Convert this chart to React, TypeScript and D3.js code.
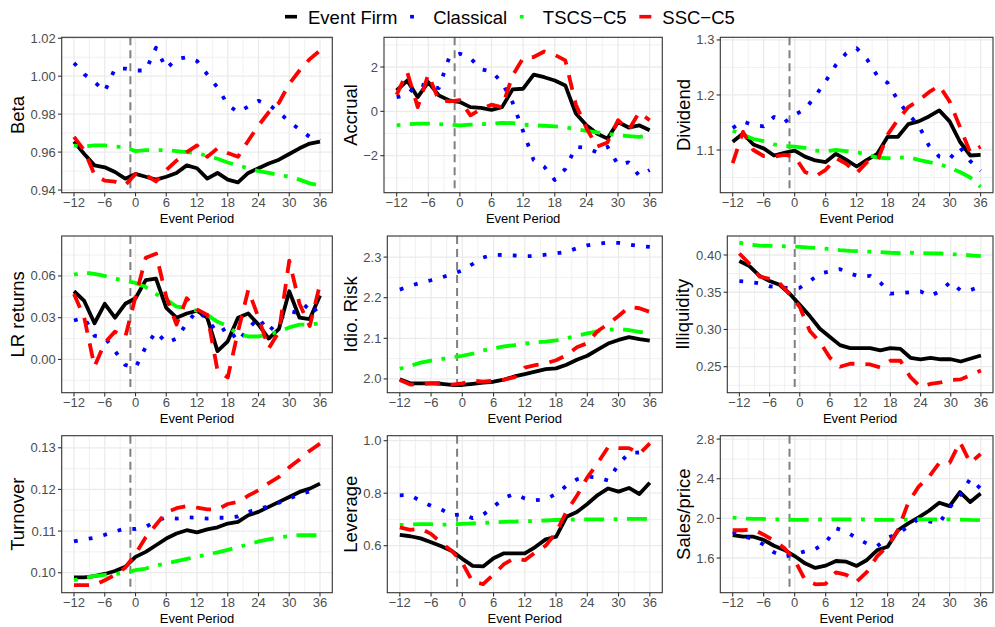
import React from 'react';
import * as d3 from 'd3';

// event periods (every second month)
const PERIODS = [-12, -10, -8, -6, -4, -2, 0, 2, 4, 6, 8, 10, 12, 14, 16, 18, 20, 22, 24, 26, 28, 30, 32, 34, 36];
const X_TICKS = [-12, -6, 0, 6, 12, 18, 24, 30, 36];
const EVENT_LINE = -1;
const SERIES = ['Event Firm', 'Classical', 'TSCS\u2212C5', 'SSC\u2212C5'];

// Beta
const betaFirm = [0.9655, 0.959, 0.953, 0.952, 0.9495, 0.946, 0.9485, 0.947, 0.9455, 0.947, 0.949, 0.953, 0.9515, 0.946, 0.949, 0.9455, 0.944, 0.949, 0.9515, 0.954, 0.956, 0.959, 0.962, 0.9645, 0.9655];
const betaClassical = [1.007, 1.001, 0.997, 0.992, 1.004, 1.004, 1.003, 1.003, 1.015, 1.004, 1.009, 1.010, 1.008, 1.001, 0.994, 0.985, 0.981, 0.984, 0.987, 0.985, 0.981, 0.976, 0.972, 0.968, 0.966];
const betaTscs = [0.9635, 0.963, 0.9635, 0.9635, 0.963, 0.9625, 0.9605, 0.961, 0.961, 0.961, 0.9605, 0.96, 0.9595, 0.958, 0.9565, 0.9545, 0.953, 0.9515, 0.950, 0.949, 0.948, 0.947, 0.9455, 0.9435, 0.9425];
const betaSsc = [0.968, 0.961, 0.948, 0.945, 0.9444, 0.9426, 0.9485, 0.948, 0.9445, 0.9505, 0.9555, 0.960, 0.9635, 0.9575, 0.962, 0.9595, 0.9575, 0.966, 0.974, 0.981, 0.986, 0.996, 1.003, 1.009, 1.0135];

// Accrual
const accFirm = [0.94, 1.39, 0.64, 1.32, 0.72, 0.49, 0.42, 0.19, 0.16, 0.07, 0.19, 0.99, 1.02, 1.66, 1.54, 1.39, 1.17, -0.1, -0.63, -1.0, -1.23, -0.48, -0.73, -0.63, -0.85];
const accClassical = [0.64, 0.75, 1.25, 1.12, 1.05, 2.45, 2.6, 2.4, 1.9, 1.8, 1.3, 0.4, -0.9, -2.2, -2.5, -3.1, -2.6, -1.6, -1.65, -1.85, -1.6, -2.4, -2.3, -2.9, -2.65];
const accTscs = [-0.63, -0.58, -0.55, -0.55, -0.58, -0.6, -0.63, -0.6, -0.58, -0.56, -0.52, -0.53, -0.6, -0.63, -0.65, -0.68, -0.72, -0.8, -0.88, -0.95, -1.02, -1.08, -1.12, -1.15, -1.1];
const accSsc = [0.75, 1.77, 0.19, 1.66, 0.5, 0.45, 0.5, -0.18, 0.1, 0.3, 0.19, 1.62, 2.4, 2.45, 2.7, 2.55, 2.3, 0.3, -0.75, -1.6, -1.4, -0.4, -0.85, -0.05, -0.4];

// Dividend
const divFirm = [1.115, 1.13, 1.11, 1.103, 1.09, 1.095, 1.099, 1.088, 1.081, 1.078, 1.093, 1.082, 1.07, 1.082, 1.093, 1.124, 1.124, 1.147, 1.152, 1.161, 1.172, 1.152, 1.115, 1.09, 1.091];
const divClassical = [1.14, 1.152, 1.145, 1.143, 1.16, 1.15, 1.164, 1.174, 1.198, 1.225, 1.255, 1.276, 1.285, 1.265, 1.235, 1.222, 1.19, 1.165, 1.145, 1.108, 1.088, 1.084, 1.105, 1.08, 1.062];
const divTscs = [1.135, 1.128, 1.12, 1.116, 1.11, 1.107, 1.106, 1.104, 1.099, 1.098, 1.1, 1.098, 1.096, 1.092, 1.086, 1.085, 1.086, 1.087, 1.082, 1.078, 1.074, 1.068, 1.06, 1.05, 1.033];
const divSsc = [1.076, 1.133, 1.1, 1.089, 1.088, 1.091, 1.088, 1.06, 1.052, 1.064, 1.085, 1.075, 1.058, 1.078, 1.08, 1.128, 1.155, 1.178, 1.19, 1.205, 1.217, 1.188, 1.142, 1.095, 1.106];

// LR returns
const lrFirm = [0.049, 0.042, 0.026, 0.040, 0.030, 0.040, 0.044, 0.057, 0.058, 0.037, 0.030, 0.033, 0.035, 0.030, 0.006, 0.013, 0.030, 0.033, 0.025, 0.015, 0.022, 0.049, 0.030, 0.029, 0.046];
const lrClassical = [0.028, 0.03, 0.017, 0.016, 0.006, -0.004, -0.006, 0.009, 0.02, 0.012, 0.015, 0.026, 0.035, 0.029, 0.019, 0.023, 0.013, 0.022, 0.03, 0.02, 0.028, 0.035, 0.033, 0.041, 0.031];
const lrTscs = [0.061, 0.0625, 0.0615, 0.06, 0.058, 0.0565, 0.055, 0.052, 0.047, 0.043, 0.038, 0.037, 0.035, 0.032, 0.027, 0.024, 0.018, 0.0165, 0.0165, 0.018, 0.02, 0.023, 0.025, 0.025, 0.026];
const lrSsc = [0.047, 0.03, -0.005, 0.012, 0.02, 0.016, 0.045, 0.073, 0.076, 0.045, 0.025, 0.044, 0.036, 0.032, -0.008, -0.013, 0.02, 0.05, 0.03, 0.008, 0.02, 0.071, 0.04, 0.024, 0.054];

// Idio. Risk
const idioFirm = [1.999, 1.989, 1.989, 1.989, 1.988, 1.985, 1.985, 1.988, 1.991, 1.993, 1.998, 2.006, 2.012, 2.018, 2.024, 2.026, 2.035, 2.047, 2.057, 2.072, 2.087, 2.096, 2.103, 2.098, 2.094];
const idioClassical = [2.220, 2.229, 2.237, 2.243, 2.25, 2.258, 2.267, 2.283, 2.299, 2.306, 2.305, 2.304, 2.302, 2.303, 2.306, 2.309, 2.313, 2.322, 2.329, 2.333, 2.336, 2.335, 2.331, 2.327, 2.325];
const idioTscs = [2.025, 2.032, 2.04, 2.045, 2.049, 2.053, 2.057, 2.062, 2.07, 2.075, 2.08, 2.083, 2.087, 2.09, 2.092, 2.095, 2.1, 2.106, 2.112, 2.117, 2.121, 2.123, 2.12, 2.116, 2.111];
const idioSsc = [1.997, 1.986, 1.987, 1.989, 1.99, 1.986, 1.989, 1.996, 1.993, 1.996, 1.998, 2.004, 2.028, 2.034, 2.038, 2.046, 2.058, 2.078, 2.088, 2.118, 2.135, 2.155, 2.177, 2.174, 2.165];

// Illiquidity
const illFirm = [0.392, 0.385, 0.372, 0.365, 0.36, 0.348, 0.333, 0.318, 0.301, 0.29, 0.279, 0.275, 0.275, 0.275, 0.272, 0.275, 0.274, 0.262, 0.26, 0.262, 0.26, 0.26, 0.257, 0.261, 0.265];
const illClassical = [0.365, 0.364, 0.362, 0.358, 0.357, 0.355, 0.356, 0.365, 0.375, 0.378, 0.381, 0.375, 0.371, 0.372, 0.363, 0.348, 0.349, 0.35, 0.351, 0.345, 0.352, 0.364, 0.352, 0.353, 0.358];
const illTscs = [0.4165, 0.414, 0.4125, 0.4122, 0.412, 0.4115, 0.411, 0.41, 0.409, 0.408, 0.4065, 0.4055, 0.405, 0.4045, 0.404, 0.403, 0.4025, 0.403, 0.4025, 0.4022, 0.402, 0.401, 0.4005, 0.3995, 0.3986];
const illSsc = [0.402, 0.388, 0.371, 0.368, 0.362, 0.347, 0.33, 0.298, 0.283, 0.262, 0.25, 0.254, 0.254, 0.253, 0.249, 0.258, 0.258, 0.236, 0.223, 0.227, 0.229, 0.232, 0.233, 0.239, 0.245];

// Turnover
const turnFirm = [0.0989, 0.0989, 0.0992, 0.0997, 0.1004, 0.1014, 0.1038, 0.105, 0.1066, 0.1082, 0.1094, 0.1102, 0.1097, 0.1104, 0.1109, 0.1118, 0.1122, 0.1138, 0.1146, 0.1158, 0.117, 0.1182, 0.1194, 0.1202, 0.1214];
const turnClassical = [0.1075, 0.108, 0.1084, 0.1091, 0.1099, 0.1106, 0.1105, 0.111, 0.1124, 0.1133, 0.113, 0.1133, 0.1132, 0.113, 0.1132, 0.1132, 0.1135, 0.1146, 0.1152, 0.116, 0.1168, 0.1178, 0.1188, 0.1195, 0.12];
const turnTscs = [0.0982, 0.0988, 0.0992, 0.0995, 0.0997, 0.1, 0.1006, 0.101, 0.1017, 0.1022, 0.1028, 0.1033, 0.1038, 0.1044, 0.1049, 0.1055, 0.1061, 0.1068, 0.1075, 0.108, 0.1085, 0.1088, 0.109, 0.109, 0.109];
const turnSsc = [0.097, 0.097, 0.097, 0.0982, 0.0995, 0.1012, 0.1045, 0.1085, 0.1115, 0.1145, 0.1155, 0.116, 0.1156, 0.1152, 0.1152, 0.1165, 0.117, 0.1185, 0.1198, 0.1215, 0.123, 0.1253, 0.1272, 0.1293, 0.131];

// Leverage
const levFirm = [0.641, 0.636, 0.628, 0.613, 0.598, 0.58, 0.55, 0.523, 0.521, 0.552, 0.571, 0.571, 0.571, 0.595, 0.624, 0.634, 0.71, 0.728, 0.759, 0.793, 0.818, 0.806, 0.82, 0.797, 0.84];
const levClassical = [0.792, 0.793, 0.77, 0.752, 0.738, 0.716, 0.72, 0.705, 0.718, 0.748, 0.782, 0.797, 0.78, 0.773, 0.777, 0.797, 0.828, 0.853, 0.863, 0.86, 0.848, 0.91, 0.953, 0.955, 0.945];
const levTscs = [0.679, 0.681, 0.682, 0.682, 0.68, 0.681, 0.683, 0.685, 0.687, 0.689, 0.691, 0.692, 0.693, 0.694, 0.696, 0.698, 0.699, 0.7, 0.7, 0.7, 0.701, 0.701, 0.702, 0.702, 0.702];
const levSsc = [0.67, 0.66, 0.665, 0.645, 0.61, 0.58, 0.535, 0.462, 0.454, 0.49, 0.53, 0.552, 0.545, 0.575, 0.6, 0.65, 0.73, 0.79, 0.86, 0.915, 0.975, 0.972, 0.972, 0.95, 0.99];

// Sales/price
const spFirm = [1.832, 1.815, 1.815, 1.782, 1.724, 1.681, 1.62, 1.546, 1.5, 1.523, 1.57, 1.563, 1.52, 1.58, 1.68, 1.714, 1.88, 1.95, 2.01, 2.077, 2.158, 2.124, 2.265, 2.165, 2.25];
const spClassical = [1.866, 1.82, 1.79, 1.735, 1.657, 1.615, 1.635, 1.668, 1.69, 1.755, 1.9, 1.865, 1.8, 1.745, 1.72, 1.805, 1.845, 1.92, 1.995, 1.97, 1.95, 2.11, 2.23, 2.4, 2.3];
const spTscs = [2.008, 1.998, 1.995, 1.994, 1.99, 1.988, 1.984, 1.984, 1.988, 1.99, 1.99, 1.99, 1.99, 1.988, 1.985, 1.984, 1.985, 1.988, 1.99, 1.99, 1.99, 1.99, 1.988, 1.984, 1.983];
const spSsc = [1.88, 1.88, 1.89, 1.835, 1.775, 1.7, 1.58, 1.38, 1.335, 1.34, 1.455, 1.43, 1.36, 1.46, 1.62, 1.72, 1.88, 2.16, 2.32, 2.42, 2.56, 2.56, 2.77, 2.56, 2.65];

const STYLES = [
  { color: '#000000', width: 3.8, dash: undefined },
  { color: '#0000FF', width: 3.8, dash: '3.8 11.2' },
  { color: '#00FF00', width: 3.8, dash: '3.8 9.5 20 9.5' },
  { color: '#FF0000', width: 3.8, dash: '15 11' },
];

const FONT = '"Liberation Sans", Arial, Helvetica, sans-serif';
const W = 995;
const H = 627;

const COLS = [
  [61.7, 332.3],
  [384, 662.3],
  [720.3, 993],
];
const ROWS = [
  [37.3, 192.7],
  [236, 392.7],
  [435.7, 592.7],
];

const panels = [
  { title: 'Beta', series: [betaFirm, betaClassical, betaTscs, betaSsc], ticks: [0.94, 0.96, 0.98, 1.0, 1.02], fmt: '.2f', domain: [0.9386, 1.0205], x: COLS[0], y: ROWS[0] },
  { title: 'Accrual', series: [accFirm, accClassical, accTscs, accSsc], ticks: [-2, 0, 2], fmt: 'd', domain: [-3.67, 3.34], x: COLS[1], y: ROWS[0] },
  { title: 'Dividend', series: [divFirm, divClassical, divTscs, divSsc], ticks: [1.1, 1.2, 1.3], fmt: '.1f', domain: [1.0224, 1.3048], x: COLS[2], y: ROWS[0] },
  { title: 'LR returns', series: [lrFirm, lrClassical, lrTscs, lrSsc], ticks: [0, 0.03, 0.06], fmt: '.2f', domain: [-0.0239, 0.0887], x: COLS[0], y: ROWS[1] },
  { title: 'Idio. Risk', series: [idioFirm, idioClassical, idioTscs, idioSsc], ticks: [2.0, 2.1, 2.2, 2.3], fmt: '.1f', domain: [1.966, 2.352], x: [387.3, 662.3], y: ROWS[1] },
  { title: 'Illiquidity', series: [illFirm, illClassical, illTscs, illSsc], ticks: [0.25, 0.3, 0.35, 0.4], fmt: '.2f', domain: [0.2151, 0.4255], x: [727.3, 993], y: ROWS[1] },
  { title: 'Turnover', series: [turnFirm, turnClassical, turnTscs, turnSsc], ticks: [0.1, 0.11, 0.12, 0.13], fmt: '.2f', domain: [0.0952, 0.1329], x: COLS[0], y: ROWS[2] },
  { title: 'Leverage', series: [levFirm, levClassical, levTscs, levSsc], ticks: [0.6, 0.8, 1.0], fmt: '.1f', domain: [0.421, 1.019], x: [387.3, 662.3], y: ROWS[2] },
  { title: 'Sales/price', series: [spFirm, spClassical, spTscs, spSsc], ticks: [1.6, 2.0, 2.4, 2.8], fmt: '.1f', domain: [1.25, 2.834], x: COLS[2], y: ROWS[2] },
];

// rough Arial advance widths (em) for layout of labels
const CHAR_W: Record<string, number> = {
  '.': 0.278, '\u2212': 0.584, ' ': 0.278, E: 0.667, v: 0.5, e: 0.556, n: 0.556, t: 0.278, F: 0.611,
  i: 0.222, r: 0.333, m: 0.833, C: 0.722, l: 0.222, a: 0.556, s: 0.5, c: 0.5, T: 0.611, S: 0.667,
};
const textWidth = (s: string, size: number) =>
  s.split('').reduce((w, ch) => w + (CHAR_W[ch] ?? 0.556), 0) * size;

const minorOf = (ticks: number[], lo: number, hi: number) => {
  const step = ticks[1] - ticks[0];
  const out = [ticks[0] - step / 2, ...ticks.map(t => t + step / 2)];
  return out.filter(v => v >= lo && v <= hi);
};

const Panel = ({ p, idx }: { p: any; idx: number }) => {
  const [left, right] = p.x;
  const [top, bottom] = p.y;
  const x = d3.scaleLinear().domain([-14.4, 38.4]).range([left, right]);
  const y = d3.scaleLinear().domain(p.domain).range([bottom, top]);
  const fmt = d3.format(p.fmt);
  const yLabels = p.ticks.map((t: number) => fmt(t));
  const labelW = Math.max(...yLabels.map((s: string) => textWidth(s, 13)));
  const xMinor = minorOf(X_TICKS, -14.4, 38.4);
  const yMinor = minorOf(p.ticks, p.domain[0], p.domain[1]);
  const line = d3.line<number>().x((_, i) => x(PERIODS[i])).y(d => y(d));
  const clipId = `clip-${idx}`;
  const titleX = left - 3.7 - 2.9 - labelW - 6;
  const cy = (top + bottom) / 2;

  return (
    <g>
      <defs>
        <clipPath id={clipId}>
          <rect x={left} y={top} width={right - left} height={bottom - top} />
        </clipPath>
      </defs>
      <rect x={left} y={top} width={right - left} height={bottom - top} fill="#fff" />
      {xMinor.map(v => (
        <line key={`xm${v}`} x1={x(v)} x2={x(v)} y1={top} y2={bottom} stroke="#EBEBEB" strokeWidth={0.7} />
      ))}
      {yMinor.map(v => (
        <line key={`ym${v}`} x1={left} x2={right} y1={y(v)} y2={y(v)} stroke="#EBEBEB" strokeWidth={0.7} />
      ))}
      {X_TICKS.map(v => (
        <line key={`xg${v}`} x1={x(v)} x2={x(v)} y1={top} y2={bottom} stroke="#EBEBEB" strokeWidth={1.3} />
      ))}
      {p.ticks.map((v: number) => (
        <line key={`yg${v}`} x1={left} x2={right} y1={y(v)} y2={y(v)} stroke="#EBEBEB" strokeWidth={1.3} />
      ))}
      <g clipPath={`url(#${clipId})`}>
        <line x1={x(EVENT_LINE)} x2={x(EVENT_LINE)} y1={top} y2={bottom} stroke="#808080" strokeWidth={2} strokeDasharray="8 5" />
        {p.series.map((vals: number[], si: number) => (
          <path
            key={si}
            d={line(vals) || ''}
            fill="none"
            stroke={STYLES[si].color}
            strokeWidth={STYLES[si].width}
            strokeDasharray={STYLES[si].dash}
            strokeLinejoin="round"
            strokeLinecap="butt"
          />
        ))}
      </g>
      <rect x={left} y={top} width={right - left} height={bottom - top} fill="none" stroke="#333333" strokeWidth={1.1} />
      {X_TICKS.map(v => (
        <g key={`xt${v}`}>
          <line x1={x(v)} x2={x(v)} y1={bottom} y2={bottom + 3.7} stroke="#333333" strokeWidth={1.1} />
          <text x={x(v)} y={bottom + 14} textAnchor="middle" fontSize={13} fill="#4D4D4D" fontFamily={FONT}>
            {d3.format('d')(v)}
          </text>
        </g>
      ))}
      {p.ticks.map((v: number, i: number) => (
        <g key={`yt${v}`}>
          <line x1={left - 3.7} x2={left} y1={y(v)} y2={y(v)} stroke="#333333" strokeWidth={1.1} />
          <text x={left - 3.7 - 2.2} y={y(v)} dy="0.35em" textAnchor="end" fontSize={13} fill="#4D4D4D" fontFamily={FONT}>
            {yLabels[i]}
          </text>
        </g>
      ))}
      <text x={(left + right) / 2} y={bottom + 30} textAnchor="middle" fontSize={13} fill="#000" fontFamily={FONT}>
        Event Period
      </text>
      <text transform={`translate(${titleX},${cy}) rotate(-90)`} textAnchor="middle" fontSize={18.5} fill="#000" fontFamily={FONT}>
        {p.title}
      </text>
    </g>
  );
};

const Legend = () => {
  let cx = 285;
  const items = SERIES.map((name, i) => {
    const item = { name, i, x: cx };
    cx += 23 + textWidth(name, 18.5) + 12.7;
    return item;
  });
  return (
    <g>
      {items.map(it => (
        <g key={it.name}>
          <line
            x1={it.x}
            x2={it.x + 12}
            y1={16.7}
            y2={16.7}
            stroke={STYLES[it.i].color}
            strokeWidth={3.6}
            strokeDasharray={STYLES[it.i].dash}
          />
          <text x={it.x + 23} y={24} fontSize={18.5} fill="#000" fontFamily={FONT}>
            {it.name}
          </text>
        </g>
      ))}
    </g>
  );
};

export default function App() {
  return (
    <svg
      width={W}
      height={H}
      viewBox={`0 0 ${W} ${H}`}
      style={{ position: 'absolute', left: 0, top: 0, background: '#fff', display: 'block' }}
    >
      <rect width={W} height={H} fill="#fff" />
      <Legend />
      {panels.map((p, i) => (
        <Panel key={p.title} p={p} idx={i} />
      ))}
    </svg>
  );
}
